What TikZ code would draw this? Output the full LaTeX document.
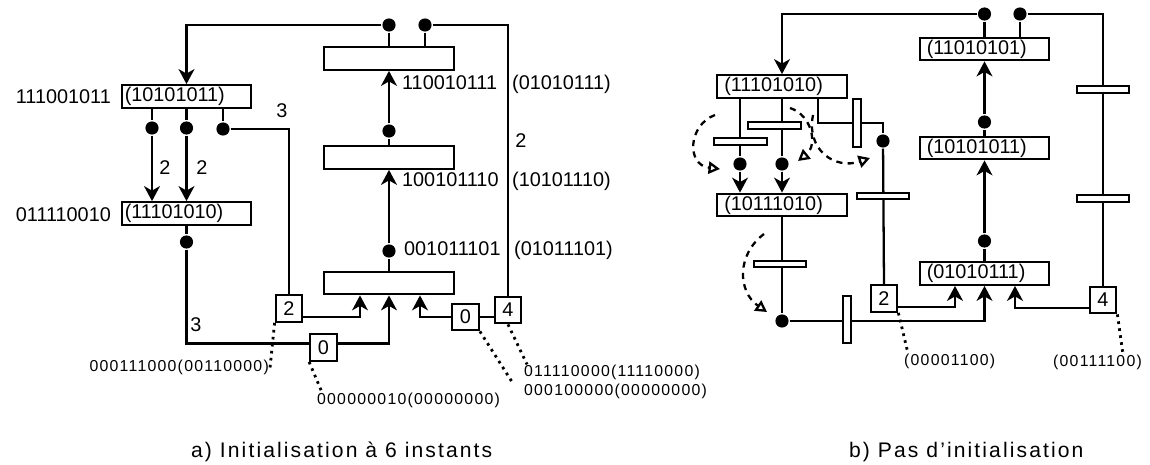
\documentclass[tikz,border=0pt]{standalone}
\usepackage{fontspec}
\setmainfont{Liberation Sans}
\newfontfamily\smallfont[LetterSpace=8]{Liberation Sans}
\newfontfamily\capfont[LetterSpace=10]{Liberation Sans}
\usetikzlibrary{arrows.meta}
\tikzset{
  statebox/.style={draw, minimum height=0.45cm, inner xsep=0.06cm, inner ysep=0pt,
                   text width=2.47cm, align=left},
  stateboxb/.style={statebox, inner xsep=0.14cm, text width=2.31cm},
  cntbox/.style={draw, fill=white, minimum size=0.53cm, inner sep=0pt},
  token/.style={circle, fill, minimum size=7.5pt, inner sep=0pt},
  hbar/.style={draw, fill=white, minimum width=1.05cm, minimum height=0.13cm, inner sep=0pt},
  vbar/.style={draw, fill=white, minimum width=0.15cm, minimum height=0.95cm, inner sep=0pt},
  lab/.style={inner sep=0pt},
  smalllab/.style={inner sep=0pt, font=\smallfont\fontsize{9}{11}\selectfont},
  captext/.style={inner sep=0pt, font=\capfont\fontsize{12}{14}\selectfont},
  arr/.style={-{Stealth[length=8.5pt,width=9pt,inset=2.5pt]}},
  leader/.style={line width=1.6pt, dash pattern=on 1.5pt off 2.5pt},
  firearc/.style={dash pattern=on 3.5pt off 3pt, -{Triangle[open,length=6.5pt,width=7pt]}}
}

\begin{document}
\begin{tikzpicture}[x=0.02cm, y=-0.02cm, line width=1.3pt,
                    font=\fontsize{11.3}{13}\selectfont]
  \useasboundingbox (0,0) rectangle (1150,465);

  % a) initialisation in six steps
  \node[statebox] (pL1) at (186.5,96.5) {(10101011)};
  \node[statebox] (pL2) at (186.5,213.5) {(11101010)};
  \node[statebox] (pA1) at (389,58.5) {};
  \node[statebox] (pA2) at (389,157.5) {};
  \node[statebox] (pA3) at (389,283) {};

  \node[token] (dL1) at (152,128) {};
  \node[token] (dL2) at (186.5,128) {};
  \node[token] (dL3) at (223,129) {};
  \node[token] (dL4) at (186.5,242) {};
  \node[token] (dA1) at (389,25) {};
  \node[token] (dA2) at (425,25) {};
  \node[token] (dA3) at (389,131) {};
  \node[token] (dA4) at (389,251) {};

  \node[cntbox] (c2) at (289,308.5) {2};
  \node[cntbox] (c0b) at (323.5,347.5) {0};
  \node[cntbox] (c0r) at (465.5,317) {0};
  \node[cntbox] (c4) at (508,310) {4};

  \draw[arr] (dA1.west) -| (pL1.north);
  \draw (dA1) -- (pA1.north);
  \draw (dA2) -- (dA2 |- pA1.north);
  \draw (dA2.east) -| (c4.north);
  \draw (pA2.north) -- (dA3);
  \draw[arr] (dA3) -- (pA1.south);
  \draw (pA3.north) -- (dA4);
  \draw[arr] (dA4) -- (pA2.south);

  \draw (dL1 |- pL1.south) -- (dL1);
  \draw (pL1.south) -- (dL2);
  \draw (dL3 |- pL1.south) -- (dL3);
  \draw[arr] (dL1) -- (dL1 |- pL2.north);
  \draw[arr] (dL2) -- (pL2.north);
  \draw (dL3.east) -| (c2.north);
  \draw (pL2.south) -- (dL4);
  \draw (dL4) |- (c0b.165);

  \draw[arr] (c2.-30) -| ([xshift=-0.58cm]pA3.south);
  \draw[arr] (c0b.15) -| (pA3.south);
  \draw[arr] (c0r.west) -| ([xshift=0.62cm]pA3.south);
  \draw (c0r.east) -- (c0r.east -| c4.west);

  \node[lab, anchor=base east] (nL1) at (112,104) {111001011};
  \node[lab, anchor=base east] (nL2) at (112,222) {011110010};
  \node[lab, anchor=base west] (nA1) at (401,90) {110010111};
  \node[lab, anchor=base west] (nA1b) at (511,90) {(01010111)};
  \node[lab, anchor=base west] (nA2) at (401,187) {100101110};
  \node[lab, anchor=base west] (nA2b) at (511,187) {(10101110)};
  \node[lab, anchor=base west] (nA3) at (403,256) {001011101};
  \node[lab, anchor=base west] (nA3b) at (513,256) {(01011101)};
  \node[lab] (w1) at (165,168) {2};
  \node[lab] (w2) at (202,168) {2};
  \node[lab] (w3) at (282,111) {3};
  \node[lab] (w4) at (196,325) {3};
  \node[lab] (w5) at (521,141) {2};

  \node[smalllab, anchor=base east] (lb2) at (270,372) {000111000(00110000)};
  \node[smalllab, anchor=base west] (lb0b) at (316,405) {000000010(00000000)};
  \node[smalllab, anchor=base west] (lb4) at (523,377) {011110000(11110000)};
  \node[smalllab, anchor=base west] (lb0r) at (523,396) {000100000(00000000)};
  \draw[leader] (c2.south west) -- (lb2.east);
  \draw[leader] (c0b.south west) -- ([xshift=0.12cm]lb0b.north west);
  \draw[leader] (c0r.south east) -- ([xshift=-0.2cm]lb0r.north west);
  \draw[leader] (c4.south) -- ([xshift=0.08cm]lb4.north west);

  \node[captext, anchor=base west] (capA) at (190,458) {a) Initialisation à 6 instants};

  % b) no initialisation
  \node[stateboxb] (pB1) at (782,86.5) {(11101010)};
  \node[stateboxb] (pB2) at (782,205) {(10111010)};
  \node[stateboxb] (pB3) at (984.5,49) {(11010101)};
  \node[stateboxb] (pB4) at (984.5,148) {(10101011)};
  \node[stateboxb] (pB5) at (984.5,273.5) {(01010111)};

  \node[token] (dB1) at (984.5,14) {};
  \node[token] (dB2) at (1020,14) {};
  \node[token] (dB3) at (984.5,122) {};
  \node[token] (dB4) at (984.5,241) {};
  \node[token] (dB5) at (740,164) {};
  \node[token] (dB6) at (782,164) {};
  \node[token] (dB7) at (883,141) {};
  \node[token] (dB8) at (782,321) {};
  \coordinate (kB) at (883,123);

  \node[cntbox] (cB2) at (884,298.5) {2};
  \node[cntbox] (cB4) at (1103,300) {4};

  \draw[arr] (dB1.west) -| (pB1.north);
  \draw (dB1) -- (pB3.north);
  \draw (dB2) -- (dB2 |- pB3.north);
  \draw (dB2.east) -| (cB4.north);
  \draw (pB4.north) -- (dB3);
  \draw[arr] (dB3) -- (pB3.south);
  \draw (pB5.north) -- (dB4);
  \draw[arr] (dB4) -- (pB4.south);

  \draw (dB5 |- pB1.south) -- (dB5);
  \draw (pB1.south) -- (dB6);
  \draw[arr] (dB5) -- (dB5 |- pB2.north);
  \draw[arr] (dB6) -- (pB2.north);
  \draw ([xshift=0.72cm]pB1.south) |- (kB) -- (dB7);
  \draw (dB7) -- (cB2.north);
  \draw (pB2.south) -- (dB8);

  \draw[arr] (cB2.-30) -| ([xshift=-0.59cm]pB5.south);
  \draw[arr] (dB8) -| (pB5.south);
  \draw[arr] (cB4.210) -| ([xshift=0.61cm]pB5.south);

  \node[hbar] (tB1) at (740.5,141.5) {};
  \node[hbar] (tB2) at (774.5,125.5) {};
  \node[vbar] (tB3) at (857,123) {};
  \node[hbar] (tB4) at (883,196) {};
  \node[hbar] (tB5) at (780,264) {};
  \node[vbar] (tB6) at (847,319.5) {};
  \node[hbar] (tB7) at (1103,89.5) {};
  \node[hbar] (tB8) at (1103,198.5) {};

  \draw[firearc] (715,115) .. controls (688,125) and (686,165) .. (720,169);
  \draw[firearc] (790,108) .. controls (812,115) and (818,145) .. (798,161);
  \draw[firearc] (813,115) .. controls (806,150) and (835,170) .. (870,158);
  \draw[firearc] (764,234) .. controls (736,255) and (738,292) .. (767,312);

  \node[smalllab, anchor=base west] (lbB2) at (903,366) {(00001100)};
  \node[smalllab, anchor=base west] (lbB4) at (1052,367) {(00111100)};
  \draw[leader] (cB2.south east) -- ([xshift=0.1cm]lbB2.north west);
  \draw[leader] (cB4.south east) -- ([xshift=1.42cm]lbB4.north west);

  \node[captext, anchor=base west] (capB) at (848,458) {b) Pas d’initialisation};
\end{tikzpicture}
\end{document}
